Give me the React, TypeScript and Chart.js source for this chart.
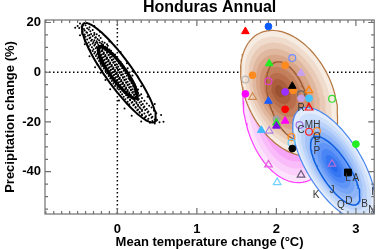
import React, { useEffect, useRef } from "react";
import { Chart, registerables } from "chart.js";

Chart.register(...registerables);

const FONT = '"Liberation Sans", Arial, Helvetica, sans-serif';

const chartTitle = "Honduras Annual";
const xTitle = "Mean temperature change (°C)";
const yTitle = "Precipitation change (%)";

const xRange = [-0.91, 3.23];
const yRange = [-57, 21];
const xTicks = [0, 1, 2, 3];
const yTicks = [-40, -20, 0, 20];
const xMinorStep = 0.1;
const yMinorStep = 5;

const cloudPoints: number[][] = [
  [-0.47, 19.6], [-0.43, 19.1], [-0.5, 18.6], [-0.4, 18.9],
  [-0.45, 18.2], [-0.38, 17.7], [-0.42, 17.4], [-0.35, 18.1], [-0.48, 17.8],
  [-0.41, 16.8], [-0.34, 16.5], [-0.39, 16.1], [-0.31, 17.0], [-0.44, 16.4], [-0.36, 17.2],
  [-0.38, 15.9], [-0.33, 15.4], [-0.29, 15.8], [-0.41, 15.2], [-0.35, 15.0], [-0.26, 15.3],
  [-0.37, 14.8], [-0.31, 14.6], [-0.27, 14.1], [-0.34, 14.0], [-0.23, 14.7], [-0.4, 14.3], [-0.29, 15.1],
  [-0.35, 13.7], [-0.28, 13.9], [-0.32, 13.1], [-0.25, 13.4], [-0.21, 13.8], [-0.38, 13.2], [-0.29, 12.9],
  [-0.33, 12.7], [-0.26, 12.5], [-0.3, 12.2], [-0.23, 12.9], [-0.19, 12.3], [-0.36, 12.0], [-0.27, 11.9], [-0.22, 12.0],
  [-0.31, 11.6], [-0.25, 11.8], [-0.28, 11.2], [-0.2, 11.5], [-0.16, 11.9], [-0.34, 11.0], [-0.24, 10.9], [-0.18, 11.1], [-0.13, 11.3],
  [-0.29, 10.7], [-0.23, 10.5], [-0.26, 10.1], [-0.18, 10.8], [-0.15, 10.2], [-0.32, 10.0], [-0.21, 9.9], [-0.12, 10.6], [-0.36, 10.4],
  [-0.27, 9.6], [-0.21, 9.8], [-0.24, 9.1], [-0.17, 9.4], [-0.13, 9.8], [-0.3, 9.2], [-0.19, 8.9], [-0.1, 9.1], [-0.15, 9.0], [-0.34, 8.8],
  [-0.25, 8.7], [-0.19, 8.5], [-0.22, 8.0], [-0.15, 8.8], [-0.11, 8.3], [-0.28, 8.1], [-0.17, 7.9], [-0.08, 8.6], [-0.13, 8.0], [-0.31, 8.5], [-0.2, 8.4],
  [-0.23, 7.7], [-0.17, 7.4], [-0.2, 7.0], [-0.13, 7.8], [-0.09, 7.2], [-0.26, 7.1], [-0.15, 6.9], [-0.06, 7.6], [-0.11, 7.0], [-0.29, 7.5], [-0.18, 7.3], [-0.03, 7.1],
  [-0.21, 6.7], [-0.15, 6.4], [-0.18, 6.0], [-0.11, 6.8], [-0.07, 6.2], [-0.24, 6.1], [-0.13, 5.9], [-0.04, 6.6], [-0.09, 6.0], [-0.27, 6.5], [-0.16, 6.3], [-0.01, 6.1],
  [-0.19, 5.7], [-0.13, 5.4], [-0.16, 5.0], [-0.09, 5.8], [-0.05, 5.2], [-0.22, 5.1], [-0.11, 4.9], [-0.02, 5.6], [-0.07, 5.0], [-0.25, 5.5], [-0.14, 5.3], [0.01, 5.1],
  [-0.17, 4.7], [-0.11, 4.4], [-0.14, 4.0], [-0.07, 4.8], [-0.03, 4.2], [-0.2, 4.1], [-0.09, 3.9], [0.0, 4.6], [-0.05, 4.0], [-0.23, 4.5], [-0.12, 4.3], [0.04, 4.2],
  [-0.15, 3.7], [-0.09, 3.4], [-0.12, 3.0], [-0.05, 3.8], [-0.01, 3.2], [-0.18, 3.1], [-0.07, 2.9], [0.02, 3.6], [-0.03, 3.0], [-0.21, 3.5], [-0.1, 3.3], [0.06, 3.2], [-0.25, 3.0],
  [-0.13, 2.7], [-0.07, 2.4], [-0.1, 2.0], [-0.03, 2.8], [0.01, 2.2], [-0.16, 2.1], [-0.05, 1.9], [0.04, 2.6], [-0.01, 2.0], [-0.19, 2.5], [-0.08, 2.3], [0.08, 2.2],
  [-0.11, 1.7], [-0.05, 1.4], [-0.08, 1.0], [-0.01, 1.8], [0.03, 1.2], [-0.14, 1.1], [-0.03, 0.9], [0.06, 1.6], [0.01, 1.0], [-0.17, 1.5], [-0.06, 1.3], [0.1, 1.2], [0.13, 1.6],
  [-0.09, 0.7], [-0.03, 0.4], [-0.06, 0.0], [0.01, 0.8], [0.05, 0.2], [-0.12, 0.1], [-0.01, -0.1], [0.08, 0.6], [0.03, 0.0], [-0.15, 0.5], [-0.04, 0.3], [0.12, 0.2], [-0.19, 0.6],
  [-0.07, -0.3], [-0.01, -0.6], [-0.04, -1.0], [0.03, -0.2], [0.07, -0.8], [-0.1, -0.9], [0.01, -1.1], [0.1, -0.4], [0.05, -1.0], [-0.13, -0.5], [-0.02, -0.7], [0.14, -0.8],
  [-0.05, -1.3], [0.01, -1.6], [-0.02, -2.0], [0.05, -1.2], [0.09, -1.8], [-0.08, -1.9], [0.03, -2.1], [0.12, -1.4], [0.07, -2.0], [-0.11, -1.5], [0.0, -1.7], [0.16, -1.8], [0.19, -1.3],
  [-0.03, -2.3], [0.03, -2.6], [0.0, -3.0], [0.07, -2.2], [0.11, -2.8], [-0.06, -2.9], [0.05, -3.1], [0.14, -2.4], [0.09, -3.0], [-0.09, -2.5], [0.02, -2.7], [0.18, -2.8],
  [-0.01, -3.3], [0.05, -3.6], [0.02, -4.0], [0.09, -3.2], [0.13, -3.8], [-0.04, -3.9], [0.07, -4.1], [0.16, -3.4], [0.11, -4.0], [-0.07, -3.5], [0.04, -3.7], [0.2, -3.8],
  [0.01, -4.3], [0.07, -4.6], [0.04, -5.0], [0.11, -4.2], [0.15, -4.8], [-0.02, -4.9], [0.09, -5.1], [0.18, -4.4], [0.13, -5.0], [-0.05, -4.5], [0.06, -4.7], [0.22, -4.9],
  [0.03, -5.3], [0.09, -5.6], [0.06, -6.0], [0.13, -5.2], [0.17, -5.8], [0.0, -5.9], [0.11, -6.1], [0.2, -5.4], [0.15, -6.0], [-0.03, -5.5], [0.08, -5.7],
  [0.05, -6.3], [0.11, -6.6], [0.08, -7.0], [0.15, -6.2], [0.19, -6.8], [0.02, -6.9], [0.13, -7.1], [0.22, -6.4], [0.17, -7.0], [0.1, -6.7], [0.26, -6.9],
  [0.07, -7.3], [0.13, -7.6], [0.1, -8.0], [0.17, -7.2], [0.21, -7.8], [0.04, -7.9], [0.15, -8.1], [0.24, -7.4], [0.19, -8.0], [0.12, -7.7],
  [0.09, -8.3], [0.15, -8.6], [0.12, -9.0], [0.19, -8.2], [0.23, -8.8], [0.06, -8.9], [0.17, -9.1], [0.26, -8.4], [0.21, -9.0], [0.3, -8.9],
  [0.11, -9.3], [0.17, -9.6], [0.14, -10.0], [0.21, -9.2], [0.25, -9.8], [0.08, -9.9], [0.19, -10.1], [0.28, -9.4], [0.23, -10.0],
  [0.13, -10.3], [0.19, -10.6], [0.16, -11.0], [0.23, -10.2], [0.27, -10.8], [0.1, -10.9], [0.21, -11.1], [0.31, -10.4], [0.25, -11.0],
  [0.16, -11.3], [0.22, -11.6], [0.19, -12.0], [0.26, -11.2], [0.3, -11.8], [0.13, -11.9], [0.24, -12.1], [0.34, -11.5],
  [0.18, -12.3], [0.24, -12.6], [0.21, -13.0], [0.28, -12.2], [0.32, -12.8], [0.15, -12.9], [0.26, -13.1], [0.37, -12.6],
  [0.2, -13.3], [0.26, -13.6], [0.23, -14.0], [0.3, -13.2], [0.34, -13.8], [0.28, -14.1], [0.4, -13.5],
  [0.23, -14.3], [0.29, -14.6], [0.26, -15.0], [0.33, -14.2], [0.37, -14.8], [0.31, -15.1], [0.43, -14.2],
  [0.25, -15.3], [0.31, -15.6], [0.28, -16.0], [0.35, -15.2], [0.39, -15.8], [0.46, -15.4],
  [0.28, -16.3], [0.34, -16.6], [0.31, -17.0], [0.38, -16.2], [0.42, -16.9], [0.49, -16.5],
  [0.31, -17.3], [0.36, -17.7], [0.4, -17.3], [0.44, -17.9], [0.35, -18.1],
  [0.34, -18.4], [0.39, -18.7], [0.43, -18.3], [0.47, -19.0],
  [0.38, -19.4], [0.44, -19.6], [0.5, -19.2], [0.41, -20.3],
  [0.47, -20.6], [0.53, -20.1],
  [-0.53, 17.9], [-0.29, 18.6], [-0.47, 14.9], [-0.22, 16.3], [-0.41, 11.2], [-0.1, 12.4],
  [-0.35, 6.4], [0.04, 8.1], [-0.28, 2.0], [0.12, 3.6], [-0.21, -0.2], [0.19, 0.4],
  [-0.15, -3.1], [0.26, -2.0], [-0.09, -6.8], [0.3, -5.6], [0.02, -11.4], [0.38, -9.9],
  [0.09, -14.6], [0.47, -12.8], [0.18, -17.5], [0.55, -17.2], [0.3, -19.8], [0.58, -19.9],
];

// contour ellipses: centre, half-extent in x and y, correlation
const blackOuter = { cx: 0.02, cy: -0.2, ax: 0.465, ay: 20, rho: -0.9 };
const blackInner = { cx: 0.005, cy: 0, ax: 0.245, ay: 10.4, rho: -0.88 };
const pinkOuter = { cx: 2.15, cy: -16.4, ax: 0.57, ay: 28, rho: -0.22, px: 2.2, py: -16 };
const brownOuter = { cx: 2.16, cy: -8.4, ax: 0.61, ay: 25.2, rho: -0.35, px: 2.03, py: -7.6 };
const brownInner = { cx: 2.15, cy: -11.5, ax: 0.275, ay: 15.7, rho: -0.45 };
const blueOuter = { cx: 2.725, cy: -37, ax: 0.52, ay: 22.8, rho: -0.66, px: 2.72, py: -38 };
const blueInner = { cx: 2.74, cy: -39.6, ax: 0.31, ay: 13.8, rho: -0.75 };

const shadeLevels = [1, 0.9, 0.8, 0.7, 0.6, 0.5, 0.4, 0.3, 0.2, 0.1];
const pinkShades = ["#fde4fd", "#fbd0fb", "#f9bbf9", "#f7a6f7", "#f590f5", "#f37af3", "#f164f1", "#ee4eee", "#eb38eb", "#e824e8"];
const brownShades = ["#f7ece2", "#f0dccd", "#e8cab6", "#e0b89f", "#d8a588", "#cf9272", "#c4805d", "#b86e4b", "#aa5e3b", "#9a512f"];
const blueShades = ["#e2ecfc", "#cfe0fb", "#bad2fa", "#a4c3f9", "#8db4f8", "#76a4f7", "#6094f6", "#4a85f5", "#3676f3", "#2468f0"];

// model markers
const modelX = [1.61, 1.9, 2.2, 1.91, 2.11, 1.7, 1.61, 1.9, 2.31, 2.21, 2.2, 2.11, 2.31, 2.41, 2.31, 2.41, 2.7, 1.61, 1.7, 1.9, 2.11, 2.41, 2.0, 2.11, 2.0, 2.0, 1.81, 1.91, 2.29, 2.41, 2.51, 2.19, 2.19, 2.2, 3.0, 1.9, 2.01, 2.7, 2.9, 2.31];
const modelY = [16.4, 18.4, 5.7, 3.5, 2.8, -1.2, -2.9, -3.6, -0.3, -7.3, -5.6, -7.9, -8.9, -7.3, -10.5, -10.5, -10.7, -8.7, -10.0, -11.6, -14.9, -14.3, -18.9, -19.6, -20.4, -21.6, -23.3, -23.6, -21.2, -23.9, -23.6, -26.0, -28.4, -30.7, -28.9, -37.2, -44.3, -36.9, -40.3, -41.3];
const modelShape = ["triangle", "circle", "circle", "triangle", "circle", "circle", "circle", "circle", "triangle", "circle", "triangle", "circle", "circle", "triangle", "circle", "circle", "circle", "circle", "triangle", "triangle", "circle", "triangle", "circle", "triangle", "triangle", "triangle", "triangle", "triangle", "circle", "circle", "circle", "circle", "circle", "circle", "circle", "triangle", "triangle", "triangle", "rect", "triangle"];
const modelFilled = [1, 1, 0, 1, 1, 1, 0, 0, 1, 1, 1, 1, 0, 0, 1, 1, 0, 1, 0, 1, 1, 0, 1, 1, 1, 1, 1, 0, 0, 0, 0, 0, 0, 1, 1, 0, 0, 0, 1, 0];
const modelColor = ["#ff0000", "#0a5cff", "#6f8fff", "#22ee22", "#ff8a1e", "#ff8a1e", "#b8b8b8", "#e040d0", "#c8a0f0", "#ff8a1e", "#000000", "#9a30ff", "#666666", "#ff7f00", "#c8a0e8", "#44c4ff", "#33dd33", "#ff00ff", "#d08a50", "#1a5cff", "#ff0000", "#ff0000", "#a0a0a0", "#ff00ff", "#22ee22", "#7a10e0", "#40b8ff", "#b080e0", "#a070e0", "#ff2020", "#ff8a1e", "#ff8a1e", "#66ccff", "#000000", "#22ee22", "#e060e0", "#70d0ff", "#b070d8", "#000000", "#6a5a7a"];

// lettered models
const letterText = ["R", "M", "H", "C", "O", "F", "P", "L", "A", "J", "K", "D", "Q", "B", "I", "N"];
const letterX = [2.31, 2.41, 2.51, 2.31, 2.51, 2.51, 2.51, 2.9, 3.0, 2.7, 2.5, 2.91, 2.81, 3.11, 3.21, 3.2];
const letterY = [-14.3, -21.2, -21.2, -23.3, -26.0, -28.0, -31.6, -42.7, -42.7, -47.6, -49.6, -52.0, -53.3, -52.9, -48.3, -55.6];

type Ell = { cx: number; cy: number; ax: number; ay: number; rho: number; px?: number; py?: number };

function ellipse(e: Ell, f = 1, cx = e.cx, cy = e.cy) {
  const pts: { x: number; y: number }[] = [];
  const s = Math.sqrt(1 - e.rho * e.rho);
  const n = 120;
  for (let i = 0; i <= n; i++) {
    const t = (i / n) * 2 * Math.PI;
    const u = Math.cos(t);
    const v = Math.sin(t);
    pts.push({ x: cx + f * e.ax * u, y: cy + f * e.ay * (e.rho * u + s * v) });
  }
  return pts;
}

function layer(e: Ell, f: number) {
  const px = e.px ?? e.cx;
  const py = e.py ?? e.cy;
  return ellipse(e, f, px + f * (e.cx - px), py + f * (e.cy - py));
}

const fillDs = (data: any[], color: string) => ({
  data, showLine: true, fill: "shape", backgroundColor: color, borderColor: "rgba(0,0,0,0)",
  borderWidth: 0, pointRadius: 0, tension: 0,
});
const lineDs = (data: any[], color: string, w: number) => ({
  data, showLine: true, fill: false, borderColor: color, borderWidth: w, pointRadius: 0, tension: 0,
});

function buildDatasets() {
  const list: any[] = [];
  list.push({
    data: cloudPoints.map(([x, y]) => ({ x, y })), showLine: false,
    pointRadius: 1, pointBackgroundColor: "#000", pointBorderWidth: 0,
  });
  list.push(lineDs(ellipse(blackOuter), "#000", 2));
  list.push(lineDs(ellipse(blackInner), "#000", 3.2));
  shadeLevels.forEach((f, i) => list.push(fillDs(layer(pinkOuter, f), pinkShades[i])));
  list.push(lineDs(ellipse(pinkOuter), "#ff3cff", 1.2));
  shadeLevels.forEach((f, i) => list.push(fillDs(layer(brownOuter, f), brownShades[i])));
  list.push(lineDs(ellipse(brownOuter), "#b5763e", 1.2));
  list.push(lineDs(ellipse(brownInner), "#9c5a2c", 1.3));
  shadeLevels.forEach((f, i) => list.push(fillDs(layer(blueOuter, f), blueShades[i])));
  list.push(lineDs(ellipse(blueOuter), "#4a88f0", 1.2));
  list.push(lineDs(ellipse(blueInner), "#0d5fe0", 1.5));
  list.push({
    data: modelX.map((x, i) => ({ x, y: modelY[i] })), showLine: false,
    pointStyle: modelShape,
    pointRadius: modelShape.map((s) => (s === "circle" ? 3.4 : s === "rect" ? 4.8 : 4.4)),
    pointBackgroundColor: modelColor.map((c, i) => (modelFilled[i] ? c : "rgba(0,0,0,0)")),
    pointBorderColor: modelColor,
    pointBorderWidth: modelFilled.map((f) => (f ? 1 : 1.2)),
  });
  const n = list.length;
  return list.map((d, i) => ({ ...d, order: n - i }));
}

const decorPlugin = {
  id: "decor",
  beforeDatasetsDraw(chart: any) {
    const { ctx, chartArea: a, scales } = chart;
    const x0 = scales.x.getPixelForValue(0);
    const y0 = scales.y.getPixelForValue(0);
    ctx.save();
    ctx.beginPath();
    ctx.rect(a.left, a.top, a.right - a.left, a.bottom - a.top);
    ctx.clip();
    ctx.strokeStyle = "#000";
    ctx.lineWidth = 1.5;
    ctx.setLineDash([1.5, 2.5]);
    ctx.beginPath();
    ctx.moveTo(a.left, y0);
    ctx.lineTo(a.right, y0);
    ctx.moveTo(x0, a.top);
    ctx.lineTo(x0, a.bottom);
    ctx.stroke();
    ctx.restore();
  },
  afterDatasetsDraw(chart: any) {
    const { ctx, scales } = chart;
    ctx.save();
    ctx.font = `10px ${FONT}`;
    ctx.fillStyle = "#333";
    ctx.textAlign = "center";
    ctx.textBaseline = "middle";
    letterText.forEach((t, i) => {
      ctx.fillText(t, scales.x.getPixelForValue(letterX[i]), scales.y.getPixelForValue(letterY[i]));
    });
    ctx.restore();
  },
  afterDraw(chart: any) {
    const { ctx, chartArea: a, scales } = chart;
    ctx.save();
    ctx.strokeStyle = "#707070";
    ctx.lineWidth = 1.2;
    ctx.strokeRect(a.left, a.top, a.right - a.left, a.bottom - a.top);
    ctx.beginPath();
    const xs = Math.ceil(xRange[0] / xMinorStep);
    const xe = Math.floor(xRange[1] / xMinorStep);
    for (let k = xs; k <= xe; k++) {
      const v = k * xMinorStep;
      const len = xTicks.some((t) => Math.abs(t - v) < 1e-6) ? 6 : 3;
      const px = scales.x.getPixelForValue(v);
      ctx.moveTo(px, a.bottom);
      ctx.lineTo(px, a.bottom - len);
      ctx.moveTo(px, a.top);
      ctx.lineTo(px, a.top + len);
    }
    const ys = Math.ceil(yRange[0] / yMinorStep);
    const ye = Math.floor(yRange[1] / yMinorStep);
    for (let k = ys; k <= ye; k++) {
      const v = k * yMinorStep;
      const len = yTicks.includes(v) ? 6 : 3;
      const py = scales.y.getPixelForValue(v);
      ctx.moveTo(a.left, py);
      ctx.lineTo(a.left + len, py);
      ctx.moveTo(a.right, py);
      ctx.lineTo(a.right - len, py);
    }
    ctx.stroke();
    ctx.restore();
  },
};

export default function App() {
  const ref = useRef<HTMLCanvasElement | null>(null);
  useEffect(() => {
    if (!ref.current) return;
    const tickFont = { family: FONT, size: 13, weight: "bold" as const };
    const chart = new Chart(ref.current, {
      type: "scatter",
      data: { datasets: buildDatasets() },
      options: {
        animation: false,
        responsive: false,
        events: [],
        layout: { padding: { left: 0, right: 3, top: 0, bottom: 0 } },
        plugins: {
          legend: { display: false },
          tooltip: { enabled: false },
          title: {
            display: true, text: chartTitle, fullSize: false, color: "#000",
            font: { family: FONT, size: 16, weight: "bold", lineHeight: 1 },
            padding: { top: 0, bottom: 4 },
          },
        },
        scales: {
          x: {
            type: "linear", min: xRange[0], max: xRange[1],
            afterBuildTicks: (s: any) => { s.ticks = xTicks.map((v) => ({ value: v })); },
            afterFit: (s: any) => { s.height = 36; },
            grid: { display: false, drawTicks: false },
            border: { display: false },
            ticks: { padding: 8, color: "#000", font: tickFont, maxRotation: 0, autoSkip: false, callback: (v: any) => String(v) },
            title: { display: true, text: xTitle, color: "#000", font: tickFont, padding: { top: 0, bottom: 0 } },
          },
          y: {
            type: "linear", min: yRange[0], max: yRange[1],
            afterBuildTicks: (s: any) => { s.ticks = yTicks.map((v) => ({ value: v })); },
            afterFit: (s: any) => { s.width = 45; },
            grid: { display: false, drawTicks: false },
            border: { display: false },
            ticks: { padding: 4, color: "#000", font: tickFont, autoSkip: false, callback: (v: any) => String(v) },
            title: { display: true, text: yTitle, color: "#000", font: tickFont, padding: { top: 3, bottom: 0 } },
          },
        },
      } as any,
      plugins: [decorPlugin],
    });
    return () => chart.destroy();
  }, []);
  return (
    <div style={{ position: "absolute", left: 0, top: 0, width: 380, height: 250, background: "#fff" }}>
      <canvas ref={ref} width={380} height={250} style={{ display: "block" }} />
    </div>
  );
}
